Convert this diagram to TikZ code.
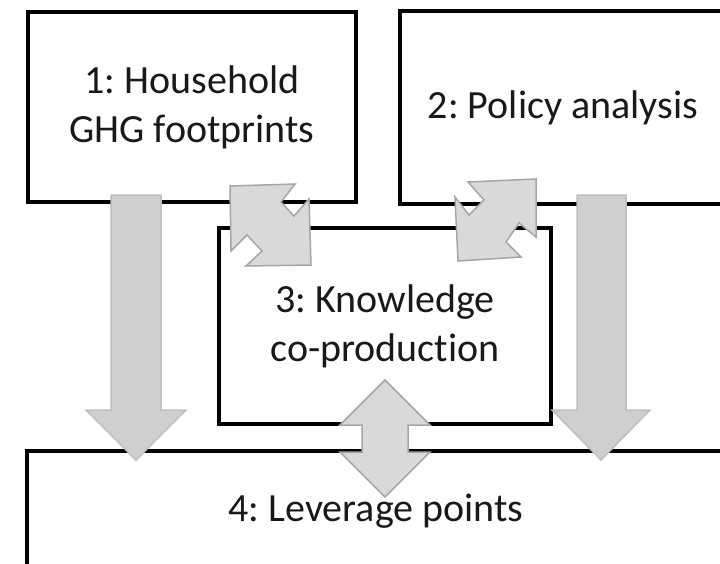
\documentclass[tikz,border=0pt]{standalone}
\usepackage{fontspec}
\setmainfont{Carlito}[Ligatures=NoCommon]
\usepackage{tikz}
\usetikzlibrary{calc}
\frenchspacing

\begin{document}
\begin{tikzpicture}[x=1pt,y=-1pt]
      \tikzset{stage box/.style={draw=black,
          line width=4pt,
          fill=white,
          inner sep=0pt,
          text=black!90,
          align=center,
          font=\fontsize{40}{49}\selectfont},
        flow arrow/.style={fill=black!19, draw=black!25, line width=1.5pt, line join=miter},
        link arrow/.style={fill=black!15, draw=black!35, line width=1.5pt, line join=miter}
      }
      \useasboundingbox (0,0) rectangle (720,563);
      \clip (0,0) rectangle (720,563);

      \node [stage box,minimum width=328pt,minimum height=190pt] (H) at (192,107) {1: Household\\GHG footprints};
      \node [stage box,minimum width=326pt,minimum height=193pt] (P) at (563,107.5) {2: Policy analysis};
      \node [stage box,minimum width=332pt,minimum height=196pt] (K) at (385,326) {3: Knowledge\\co-production};
      \node [stage box,minimum width=698pt,minimum height=121pt] (L) at (376,511.5) {4: Leverage points};

      \draw [flow arrow] (111,195)--(161,195)--(161,410)--(186,410)--(136,460)--(86,410)--(111,410)--cycle;
      \draw [flow arrow] (577,195)--(626,195)--(626,410)--(650,410)--(601,460)--(552,410)--(577,410)--cycle;

      \draw [link arrow] (230,186)--(295,184)--(281,202)--(294,216)--(309,199)--(311,265)--(246,266)--(262,251)--(247,235)--(231,251)--cycle;
      \draw [link arrow] (468,182)--(536,179)--(536,237)--(519,223)--(506,242)--(521,257)--(458,261)--(455,197)--(469,215)--(484,200)--cycle;
      \draw [link arrow] (385,380)--(430,425)--(408,425)--(408,452)--(430,452)--(385,497)--(340,452)--(362,452)--(362,425)--(340,425)--cycle;
    \end{tikzpicture}
\end{document}
